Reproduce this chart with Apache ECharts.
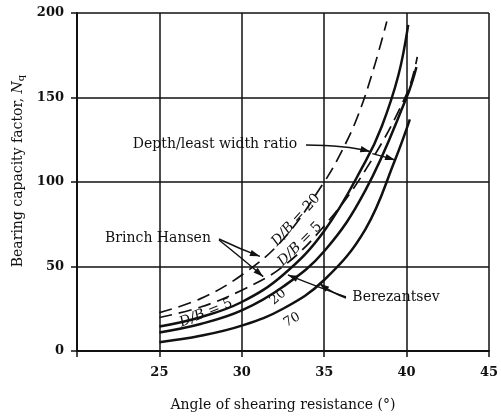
<!DOCTYPE html>
<html>
<head>
<meta charset="utf-8">
<script src="https://cdn.jsdelivr.net/npm/echarts@6/dist/echarts.min.js"></script>
<style>
  html, body { margin: 0; padding: 0; background: #fff; }
  #chart { width: 501px; height: 417px; }
</style>
</head>
<body>
<div id="chart"></div>
<script>
// Angle of shearing resistance (deg) and bearing capacity factor Nq for each curve
const phiHansen20 = [25, 27.5, 30, 32.5, 35, 36, 37, 38, 38.8];
const nqHansen20  = [22.7, 31, 45, 66, 100, 117, 138, 167, 195];

const phiHansen5 = [25, 27.5, 30, 32.5, 35, 37.5, 40, 40.65];
const nqHansen5  = [19.8, 26, 36, 50, 74, 107, 152, 174];

const phiBerez5 = [25, 27.5, 30, 32.5, 35, 37.5, 38.5, 39.5, 40.1];
const nqBerez5  = [14.5, 20, 29, 45, 71, 112, 133, 163, 193];

const phiBerez20 = [25, 27.5, 30, 32.5, 35, 37.5, 40, 40.6];
const nqBerez20  = [11, 16, 24, 38, 59, 95, 150, 168];

const phiBerez70 = [25, 27.5, 30, 32.5, 35, 37.5, 39.3, 40.2];
const nqBerez70  = [5.2, 9, 15, 25, 42, 72, 113, 137];

const xTicks = [25, 30, 35, 40, 45];
const yTicks = [0, 50, 100, 150, 200];

const FONT = '"DejaVu Serif", serif';
const INK = '#111';

function pairs(xs, ys) { return xs.map((x, i) => [x, ys[i]]); }

function curve(name, xs, ys, dashed) {
  return {
    name: name,
    type: 'line',
    data: pairs(xs, ys),
    smooth: 0.4,
    showSymbol: false,
    silent: true,
    lineStyle: dashed
      ? { color: INK, width: 1.7, type: [13, 7] }
      : { color: INK, width: 2.5 }
  };
}

const chart = echarts.init(document.getElementById('chart'), null, { renderer: 'canvas' });

chart.setOption({
  animation: false,
  backgroundColor: '#fff',
  grid: { left: 77, right: 8, top: 13, bottom: 60 },
  xAxis: {
    type: 'value',
    min: 20, max: 45, interval: 5,
    name: 'Angle of shearing resistance (°)',
    nameLocation: 'middle',
    nameGap: 47,
    nameTextStyle: { fontFamily: FONT, fontSize: 14, color: INK },
    axisLine: { lineStyle: { color: INK, width: 2 } },
    axisTick: { show: true, length: 6, lineStyle: { color: INK, width: 1.5 } },
    axisLabel: {
      margin: 15, fontFamily: FONT, fontSize: 13, fontWeight: 'bold', color: INK,
      formatter: v => (xTicks.includes(v) ? String(v) : '')
    },
    splitLine: { show: true, lineStyle: { color: INK, width: 1.5 } }
  },
  yAxis: {
    type: 'value',
    min: 0, max: 200, interval: 50,
    axisLine: { show: true, lineStyle: { color: INK, width: 2 } },
    axisTick: { show: true, length: 6, lineStyle: { color: INK, width: 1.5 } },
    axisLabel: {
      margin: 13, fontFamily: FONT, fontSize: 13, fontWeight: 'bold', color: INK,
      formatter: v => (yTicks.includes(v) ? String(v) : '')
    },
    splitLine: { show: true, lineStyle: { color: INK, width: 1.5 } }
  },
  series: [
    curve('Brinch Hansen D/B=20', phiHansen20, nqHansen20, true),
    curve('Brinch Hansen D/B=5', phiHansen5, nqHansen5, true),
    curve('Berezantsev D/B=5', phiBerez5, nqBerez5, false),
    curve('Berezantsev D/B=20', phiBerez20, nqBerez20, false),
    curve('Berezantsev D/B=70', phiBerez70, nqBerez70, false)
  ]
});

// Annotations: leader arrows end on points of the curves, converted through the axes
const px = p => chart.convertToPixel({ gridIndex: 0 }, p);

function arrowHead(tip, from, size) {
  const dx = tip[0] - from[0], dy = tip[1] - from[1];
  const len = Math.hypot(dx, dy) || 1;
  const ux = dx / len, uy = dy / len;
  const bx = tip[0] - ux * size, by = tip[1] - uy * size;
  const w = size * 0.32;
  return {
    type: 'polygon',
    shape: { points: [tip, [bx - uy * w, by + ux * w], [bx + uy * w, by - ux * w]] },
    style: { fill: INK }
  };
}

function leader(start, ctrl, tip) {
  return [
    { type: 'bezierCurve',
      shape: { x1: start[0], y1: start[1], cpx1: ctrl[0], cpy1: ctrl[1], x2: tip[0], y2: tip[1] },
      style: { stroke: INK, lineWidth: 1.4, fill: null } },
    arrowHead(tip, ctrl, 10)
  ];
}

const richDB = {
  i: { fontFamily: FONT, fontSize: 14, fontStyle: 'italic', fill: INK }
};

function label(text, x, y, deg, size, bg) {
  const style = {
    text: text, fontFamily: FONT, fontSize: size || 14,
    fill: INK, align: 'center', verticalAlign: 'middle', rich: richDB
  };
  if (bg) { style.backgroundColor = '#fff'; style.padding = [0, 2]; }
  return { type: 'text', x: x, y: y, rotation: (deg || 0) * Math.PI / 180, style: style };
}

const g = [];

// y-axis title with subscript
g.push({
  type: 'text', x: 18, y: 171, rotation: Math.PI / 2,
  style: {
    text: 'Bearing capacity factor, {n|N}{s|q}',
    fontFamily: FONT, fontSize: 14, fill: INK, align: 'center', verticalAlign: 'middle',
    rich: {
      n: { fontFamily: FONT, fontSize: 14, fontStyle: 'italic', fill: INK },
      s: { fontFamily: FONT, fontSize: 10, fill: INK, verticalAlign: 'bottom', padding: [7, 0, 0, 0] }
    }
  }
});

// Depth/least width ratio, one leader with two heads
g.push(label('Depth/least width ratio', 215, 144, 0));
{
  const t1 = px([37.8, 118]);
  const t2 = px([39.3, 113]);
  g.push(...leader([306, 145], [345, 145], t1));
  g.push(...leader([t1[0] + 2, t1[1] + 2], [t1[0] + 14, t1[1] + 5], t2));
}

// Brinch Hansen
g.push(label('Brinch Hansen', 158, 238, 0));
{
  const a1 = px([31.1, 56]);
  const a2 = px([31.3, 44]);
  g.push(...leader([219, 239], [240, 249], a1));
  g.push(...leader([219, 240], [244, 260], a2));
}

// Berezantsev
g.push(label('Berezantsev', 396, 297, 0));
{
  const b1 = px([32.8, 45]);
  const b2 = px([34.7, 40]);
  g.push(...leader([346, 297], [320, 288], b1));
  g.push(...leader([346, 298], [334, 294], b2));
}

// Curve labels
g.push(label('{i|D/B} = 20', 296, 220, 48));
g.push(label('{i|D/B} = 5', 300, 244, 45));
g.push(label('{i|D/B} = 5', 206, 313, 22, 14, true));
g.push(label('20', 278, 297, 40, 13));
g.push(label('70', 292, 320, 30, 13));

chart.setOption({ graphic: { elements: g } });
</script>
</body>
</html>
